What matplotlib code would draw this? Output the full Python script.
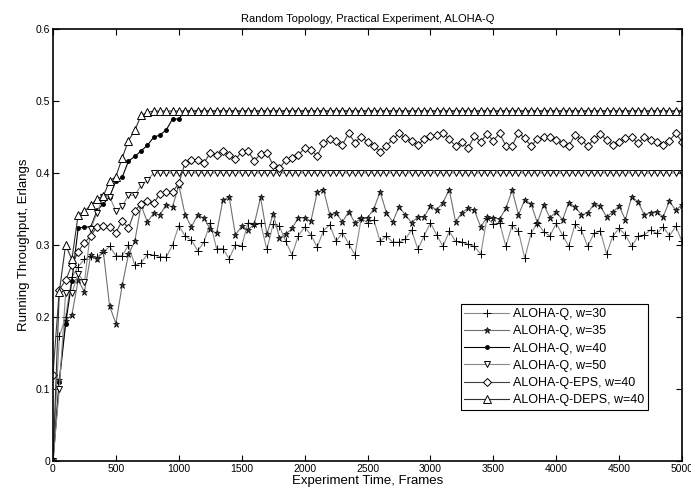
import numpy as np
import matplotlib
matplotlib.use('Agg')
import matplotlib.pyplot as plt

plt.rcParams['font.family'] = ['Liberation Sans', 'DejaVu Sans']

# frames sampled every 50 frames, 0..5000
frames = list(range(0, 5001, 50))

w30 = [0, 0.173, 0.20, 0.255, 0.27, 0.28, 0.285, 0.283, 0.29, 0.298,
       0.285, 0.285, 0.30, 0.272, 0.275, 0.287, 0.286, 0.284, 0.283, 0.30,
       0.327, 0.3125, 0.307, 0.292, 0.304, 0.331, 0.295, 0.295, 0.281, 0.30,
       0.299, 0.331, 0.329, 0.33, 0.294, 0.329, 0.326, 0.305, 0.286, 0.313,
       0.325, 0.314, 0.297, 0.32, 0.328, 0.305, 0.317, 0.302, 0.286, 0.337,
       0.331, 0.335, 0.305, 0.3125, 0.304, 0.304, 0.308, 0.321, 0.294, 0.3125,
       0.331, 0.314, 0.298, 0.319, 0.305, 0.304, 0.301, 0.298, 0.287, 0.338,
       0.329, 0.331, 0.298, 0.328, 0.319, 0.2815, 0.316, 0.331, 0.3185, 0.3125,
       0.33, 0.314, 0.298, 0.329, 0.321, 0.298, 0.316, 0.32, 0.2875, 0.3125,
       0.323, 0.314, 0.298, 0.3125, 0.314, 0.321, 0.316, 0.3255, 0.3125, 0.326,
       0.305]

w35 = [0, 0.113, 0.195, 0.203, 0.251, 0.235, 0.286, 0.281, 0.291, 0.215,
       0.191, 0.244, 0.287, 0.305, 0.355, 0.332, 0.344, 0.342, 0.356, 0.353,
       0.383, 0.342, 0.325, 0.342, 0.337, 0.322, 0.316, 0.362, 0.367, 0.314,
       0.326, 0.321, 0.329, 0.366, 0.315, 0.343, 0.31, 0.315, 0.323, 0.338,
       0.338, 0.333, 0.373, 0.377, 0.342, 0.345, 0.332, 0.346, 0.331, 0.337,
       0.338, 0.35, 0.374, 0.345, 0.332, 0.353, 0.342, 0.331, 0.339, 0.339,
       0.354, 0.349, 0.359, 0.377, 0.332, 0.345, 0.351, 0.348, 0.325, 0.339,
       0.338, 0.336, 0.351, 0.376, 0.342, 0.3625, 0.357, 0.331, 0.356, 0.338,
       0.346, 0.335, 0.359, 0.353, 0.342, 0.344, 0.357, 0.354, 0.339, 0.346,
       0.354, 0.335, 0.367, 0.36, 0.342, 0.345, 0.346, 0.339, 0.361, 0.348,
       0.356]

w40 = [0, 0.11, 0.19, 0.25, 0.3236, 0.325, 0.325, 0.348, 0.357, 0.367,
       0.389, 0.394, 0.4166, 0.423, 0.4306, 0.4384, 0.4495, 0.4528, 0.4597, 0.475,
       0.475] + [0.486] * 80

w50 = [0, 0.10, 0.233, 0.233, 0.26, 0.248, 0.322, 0.345, 0.367, 0.367,
       0.347, 0.354, 0.369, 0.369, 0.383, 0.390] + [0.40] * 85

eps40 = [0.12, 0.238, 0.251, 0.272, 0.2907, 0.3032, 0.3125, 0.3255, 0.3264, 0.3255,
         0.317, 0.3338, 0.3231, 0.3477, 0.357, 0.3616, 0.358, 0.371, 0.374, 0.374,
         0.3856, 0.4144, 0.418, 0.418, 0.4134, 0.4282, 0.425, 0.431, 0.425, 0.419,
         0.4296, 0.431, 0.4167, 0.4264, 0.4282, 0.411, 0.4065, 0.418, 0.4204, 0.425,
         0.4343, 0.432, 0.4236, 0.4412, 0.4468, 0.445, 0.439, 0.4551, 0.4421, 0.4505,
         0.4435, 0.4375, 0.4296, 0.4375, 0.4468, 0.4551, 0.4481, 0.445, 0.439, 0.4468,
         0.4514, 0.4528, 0.456, 0.4468, 0.4375, 0.4435, 0.4343, 0.4514, 0.4435, 0.4542,
         0.445, 0.4551, 0.4375, 0.4375, 0.456, 0.4481, 0.4375, 0.4468, 0.4495, 0.4495,
         0.4458, 0.4412, 0.4375, 0.4528, 0.4458, 0.4375, 0.4468, 0.4542, 0.4458, 0.439,
         0.4435, 0.4481, 0.4495, 0.4412, 0.4495, 0.4458, 0.4435, 0.439, 0.445, 0.4551,
         0.4435]

deps40 = [0, 0.235, 0.30, 0.28, 0.342, 0.347, 0.355, 0.364, 0.368, 0.389,
          0.395, 0.421, 0.445, 0.459, 0.480, 0.484] + [0.486] * 85

labels = ['ALOHA-Q, w=30', 'ALOHA-Q, w=35', 'ALOHA-Q, w=40', 'ALOHA-Q, w=50',
          'ALOHA-Q-EPS, w=40', 'ALOHA-Q-DEPS, w=40']

fig = plt.figure(figsize=(6.91, 4.99), dpi=100)
ax = fig.add_axes([0.0767, 0.076, 0.9103, 0.866])

lw = 0.8
ax.plot(frames, w30, color='#8a8a8a', lw=lw, marker='+', ms=6, mec='black', mew=0.7, label=labels[0])
ax.plot(frames, w35, color='#707070', lw=lw, marker='*', ms=5, mec='black', mfc='#404040', mew=0.5, label=labels[1])
ax.plot(frames, w40, color='black', lw=lw, marker='.', ms=5, mec='black', mfc='black', label=labels[2])
ax.plot(frames, w50, color='#8a8a8a', lw=lw, marker='v', ms=5, mec='black', mfc='white', mew=0.7, label=labels[3])
ax.plot(frames, eps40, color='#404040', lw=lw, marker='D', ms=4.3, mec='black', mfc='white', mew=0.7, label=labels[4])
ax.plot(frames, deps40, color='#303030', lw=lw, marker='^', ms=5.5, mec='black', mfc='white', mew=0.7, label=labels[5])

ax.set_xlim(0, 5000)
ax.set_ylim(0, 0.6)
ax.set_xticks(range(0, 5001, 500))
ax.set_yticks([0, 0.1, 0.2, 0.3, 0.4, 0.5, 0.6])
ax.set_yticklabels(['0', '0.1', '0.2', '0.3', '0.4', '0.5', '0.6'])
ax.tick_params(direction='in', top=True, right=True, length=4, width=0.8, labelsize=7.5, pad=2)
for s in ax.spines.values():
    s.set_linewidth(1.2)

ax.set_title('Random Topology, Practical Experiment, ALOHA-Q', fontsize=8, pad=5)
ax.set_xlabel('Experiment Time, Frames', fontsize=9.5, labelpad=1)
ax.set_ylabel('Running Throughput, Erlangs', fontsize=9.5, labelpad=4)

leg = ax.legend(loc='lower right', bbox_to_anchor=(0.946, 0.118), fontsize=9,
                frameon=True, fancybox=False, framealpha=1, edgecolor='black',
                borderpad=0.3, labelspacing=0.42, handlelength=3.6, handletextpad=0.3,
                borderaxespad=0)
leg.get_frame().set_linewidth(0.8)

fig.savefig('out.png', dpi=100)
